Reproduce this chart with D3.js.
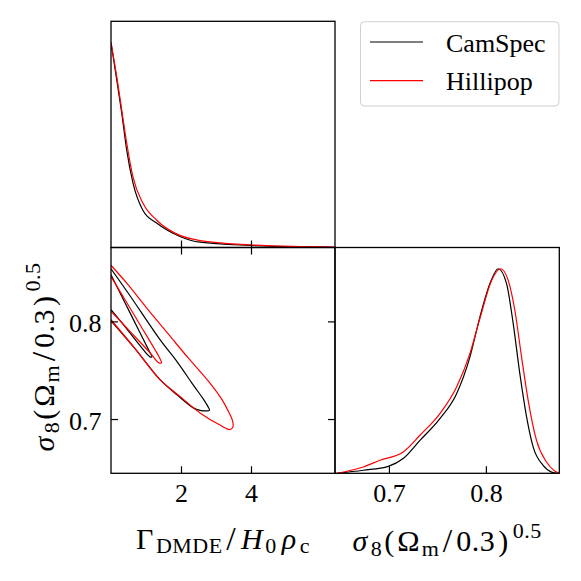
<!DOCTYPE html>
<html>
<head>
<meta charset="utf-8">
<script src="https://cdn.jsdelivr.net/npm/d3@7"></script>
<style>
  html, body { margin: 0; padding: 0; background: #fff; }
  svg text { font-family: "Liberation Serif", "Times New Roman", serif; fill: #000; }
</style>
</head>
<body>
<svg id="chart" width="581" height="581"></svg>
<script>
// ---------- data ----------
const seriesNames = ["CamSpec", "Hillipop"];
const seriesColors = ["#000000", "#ff0000"];

// 1D marginal of Gamma_DMDE / H0 rho_c (normalised to peak = 1)
const gammaGrid     = [0, 0.163, 0.306, 0.449, 0.629, 0.914, 1.314, 1.97, 2.54, 3.97, 5.4, 6.4];
const gammaCamSpec  = [1.0, 0.819, 0.657, 0.475, 0.314, 0.181, 0.118, 0.054, 0.026, 0.010, 0.003, 0.001];
const gammaHillipop = [1.0, 0.835, 0.672, 0.510, 0.343, 0.216, 0.132, 0.059, 0.034, 0.013, 0.005, 0.002];

// 1D marginal of sigma8 (Omega_m/0.3)^0.5
const s8GridCamSpec  = [0.6461, 0.6735, 0.6993, 0.7147, 0.732, 0.7526, 0.7698, 0.7835, 0.7938, 0.8041, 0.8127, 0.8213, 0.8282, 0.835, 0.842, 0.8488, 0.859, 0.8677, 0.8745];
const s8CamSpec      = [0, 0.015, 0.034, 0.072, 0.161, 0.267, 0.389, 0.568, 0.764, 0.927, 1.0, 0.927, 0.731, 0.487, 0.275, 0.128, 0.039, 0.006, 0];
const s8GridHillipop = [0.6461, 0.6735, 0.6907, 0.7147, 0.732, 0.7526, 0.7698, 0.7835, 0.7938, 0.8059, 0.8152, 0.823, 0.8299, 0.8368, 0.8436, 0.8522, 0.8625, 0.871, 0.8755];
const s8Hillipop     = [0, 0.031, 0.064, 0.104, 0.186, 0.292, 0.422, 0.585, 0.756, 0.943, 1.0, 0.943, 0.796, 0.568, 0.357, 0.161, 0.055, 0.011, 0];

// 2D contours [Gamma, sigma8], upper edge -> tip -> lower edge
const camSpec95 = [[0,0.8539],[0.543,0.8263],[1.4,0.7813],[1.886,0.7588],[2.343,0.7352],[2.629,0.7209],[2.771,0.7127],[2.814,0.7091],[2.743,0.7084],[2.543,0.7089],[2.351,0.7114],[1.877,0.7250],[1.4,0.7403],[0.686,0.7721],[0,0.8007]];
const camSpec68 = [[0,0.8478],[0.4,0.8191],[0.829,0.7884],[1.114,0.7680],[1.171,0.7639],[1.114,0.7637],[0.829,0.7751],[0.4,0.7946],[0,0.8120]];
const hillipop95 = [[0,0.8575],[0.486,0.8376],[1.057,0.8120],[1.629,0.7874],[2.2,0.7628],[2.771,0.7393],[3.171,0.7199],[3.371,0.7066],[3.471,0.6984],[3.486,0.6922],[3.4,0.6892],[3.114,0.6938],[2.543,0.7062],[1.971,0.7232],[1.4,0.7403],[0.686,0.7721],[0,0.8017]];
const hillipop68 = [[0,0.8460],[0.4,0.8222],[0.829,0.7966],[1.257,0.7710],[1.4,0.7618],[1.443,0.7577],[1.371,0.7575],[1.114,0.7680],[0.686,0.7843],[0.257,0.8007],[0,0.8102]];

const gammaTicks = [2, 4];
const s8Ticks = [0.7, 0.8];

// ---------- layout ----------
const X0 = 111, X1 = 335, X2 = 559.3;
const Y0 = 21.3, Y1 = 247.5, Y2 = 473.3;
const FS = 26;

const svg = d3.select("#chart");

const xG  = d3.scaleLinear().domain([0, 6.4]).range([X0, X1]);
const xS  = d3.scaleLinear().domain([0.6444, 0.8757]).range([X1, X2]);
const yS  = d3.scaleLinear().domain([0.6444, 0.8757]).range([Y2, Y1]);
const yP1 = d3.scaleLinear().domain([0, 1.104]).range([Y1, Y0]);
const yP2 = d3.scaleLinear().domain([0, 1.104]).range([Y2, Y1]);

const defs = svg.append("defs");
function clip(id, x, y, w, h) {
  defs.append("clipPath").attr("id", id).append("rect").attr("x", x).attr("y", y).attr("width", w).attr("height", h);
}
clip("cTL", X0, Y0, X1 - X0, Y1 - Y0);
clip("cBL", X0, Y1, X1 - X0, Y2 - Y1);
clip("cBR", X1, Y1, X2 - X1, Y2 - Y1);

// ---------- top-left: Gamma marginal ----------
const gTL = svg.append("g").attr("clip-path", "url(#cTL)");
const lineG = d3.line().x(d => xG(d[0])).y(d => yP1(d[1])).curve(d3.curveMonotoneX);
[gammaCamSpec, gammaHillipop].forEach((vals, i) => {
  gTL.append("path").datum(gammaGrid.map((g, k) => [g, vals[k]]))
    .attr("d", lineG).attr("fill", "none").attr("stroke", seriesColors[i]).attr("stroke-width", 1.2);
});

// ---------- bottom-right: sigma8 marginal ----------
const gBR = svg.append("g").attr("clip-path", "url(#cBR)");
const lineS = d3.line().x(d => xS(d[0])).y(d => yP2(d[1])).curve(d3.curveMonotoneX);
[[s8GridCamSpec, s8CamSpec], [s8GridHillipop, s8Hillipop]].forEach((p, i) => {
  gBR.append("path").datum(p[0].map((s, k) => [s, p[1][k]]))
    .attr("d", lineS).attr("fill", "none").attr("stroke", seriesColors[i]).attr("stroke-width", 1.2);
});

// ---------- bottom-left: 2D contours ----------
const gBL = svg.append("g").attr("clip-path", "url(#cBL)");
const lineC = d3.line().x(d => xG(d[0])).y(d => yS(d[1])).curve(d3.curveCatmullRom.alpha(0.5));
[[camSpec95, 0], [camSpec68, 0], [hillipop95, 1], [hillipop68, 1]].forEach(c => {
  gBL.append("path").datum(c[0]).attr("d", lineC).attr("fill", "none")
    .attr("stroke", seriesColors[c[1]]).attr("stroke-width", 1.2);
});

// ---------- axes / ticks ----------
function styleAxis(g, showText) {
  g.select(".domain").remove();
  g.selectAll(".tick line").attr("stroke", "#000").attr("stroke-width", 1.2);
  g.selectAll("text").attr("font-size", FS);
  if (!showText) g.selectAll("text").remove();
}
const fmt1 = d3.format(".1f");
svg.append("g").attr("transform", `translate(0,${Y1})`)
  .call(d3.axisBottom(xG).tickValues(gammaTicks).tickSize(-7)).call(g => styleAxis(g, false));
svg.append("g").attr("transform", `translate(0,${Y1})`)
  .call(d3.axisTop(xG).tickValues(gammaTicks).tickSize(-7)).call(g => styleAxis(g, false));
svg.append("g").attr("transform", `translate(0,${Y2})`)
  .call(d3.axisBottom(xG).tickValues(gammaTicks).tickSize(-7).tickPadding(10).tickFormat(d3.format("d")))
  .call(g => styleAxis(g, true));
svg.append("g").attr("transform", `translate(${X0},0)`)
  .call(d3.axisLeft(yS).tickValues(s8Ticks).tickSize(-7).tickPadding(9.5).tickFormat(fmt1))
  .call(g => { styleAxis(g, true); g.selectAll("text").attr("dy", "0.4em"); });
svg.append("g").attr("transform", `translate(${X1},0)`)
  .call(d3.axisRight(yS).tickValues(s8Ticks).tickSize(-7)).call(g => styleAxis(g, false));
svg.append("g").attr("transform", `translate(0,${Y2})`)
  .call(d3.axisBottom(xS).tickValues(s8Ticks).tickSize(-7).tickPadding(10).tickFormat(fmt1))
  .call(g => styleAxis(g, true));

// ---------- spines ----------
[[X0, Y0, X1, Y1], [X0, Y1, X1, Y2], [X1, Y1, X2, Y2]].forEach(r => {
  svg.append("rect").attr("x", r[0]).attr("y", r[1]).attr("width", r[2] - r[0]).attr("height", r[3] - r[1])
    .attr("fill", "none").attr("stroke", "#000").attr("stroke-width", 1.3);
});

// ---------- axis labels ----------
const LFS = 30, SFS = 22, SLASH = 34;
function s8Label(t) {
  t.attr("letter-spacing", 0.5);
  t.append("tspan").attr("font-style", "italic").text("σ");
  t.append("tspan").attr("font-size", SFS).attr("dx", 3).attr("dy", 5).text("8");
  t.append("tspan").attr("dx", 2).attr("dy", -5).text("(");
  t.append("tspan").attr("dx", 2.5).text("Ω");
  t.append("tspan").attr("font-size", SFS).attr("dx", 1.5).attr("dy", 5).text("m");
  t.append("tspan").attr("font-size", SLASH).attr("dx", 3.5).attr("dy", -4).text("/");
  t.append("tspan").attr("dx", 3.5).attr("dy", -1).text("0.3");
  t.append("tspan").attr("dx", 3).text(")");
  t.append("tspan").attr("font-size", SFS).attr("dx", 4).attr("dy", -13.5).text("0.5");
}
const xl2 = svg.append("text").attr("x", (X1 + X2) / 2).attr("y", 551)
  .attr("text-anchor", "middle").attr("font-size", LFS);
s8Label(xl2);

const xl1 = svg.append("text").attr("x", (X0 + X1) / 2).attr("y", 548.5)
  .attr("text-anchor", "middle").attr("font-size", LFS).attr("letter-spacing", 0.5);
xl1.append("tspan").text("Γ");
xl1.append("tspan").attr("font-size", SFS).attr("dx", 2).attr("dy", 4).text("DMDE");
xl1.append("tspan").attr("font-size", SLASH).attr("dx", 3.5).attr("dy", -3).text("/");
xl1.append("tspan").attr("font-style", "italic").attr("dx", 5).attr("dy", -1).text("H");
xl1.append("tspan").attr("font-size", SFS).attr("dx", 2).attr("dy", 4).text("0");
xl1.append("tspan").attr("font-style", "italic").attr("dx", 5).attr("dy", -4).text("ρ");
xl1.append("tspan").attr("font-size", SFS).attr("dx", 3).attr("dy", 4.5).text("c");

const yl = svg.append("text").attr("transform", `translate(53.5,357) rotate(-90)`)
  .attr("text-anchor", "middle").attr("font-size", LFS);
s8Label(yl);

// ---------- legend ----------
const lg = svg.append("g");
lg.append("rect").attr("x", 360.5).attr("y", 21.7).attr("width", 198.5).attr("height", 84.3)
  .attr("rx", 4).attr("fill", "#fff").attr("fill-opacity", 0.8).attr("stroke", "#d0d0d0").attr("stroke-width", 1);
const legendY = [42, 80.7];
seriesNames.forEach((n, i) => {
  lg.append("line").attr("x1", 370).attr("x2", 423).attr("y1", legendY[i]).attr("y2", legendY[i])
    .attr("stroke", seriesColors[i]).attr("stroke-width", 1.2);
  lg.append("text").attr("x", 446).attr("y", legendY[i] + 9.5).attr("font-size", FS).text(n);
});
</script>
</body>
</html>
